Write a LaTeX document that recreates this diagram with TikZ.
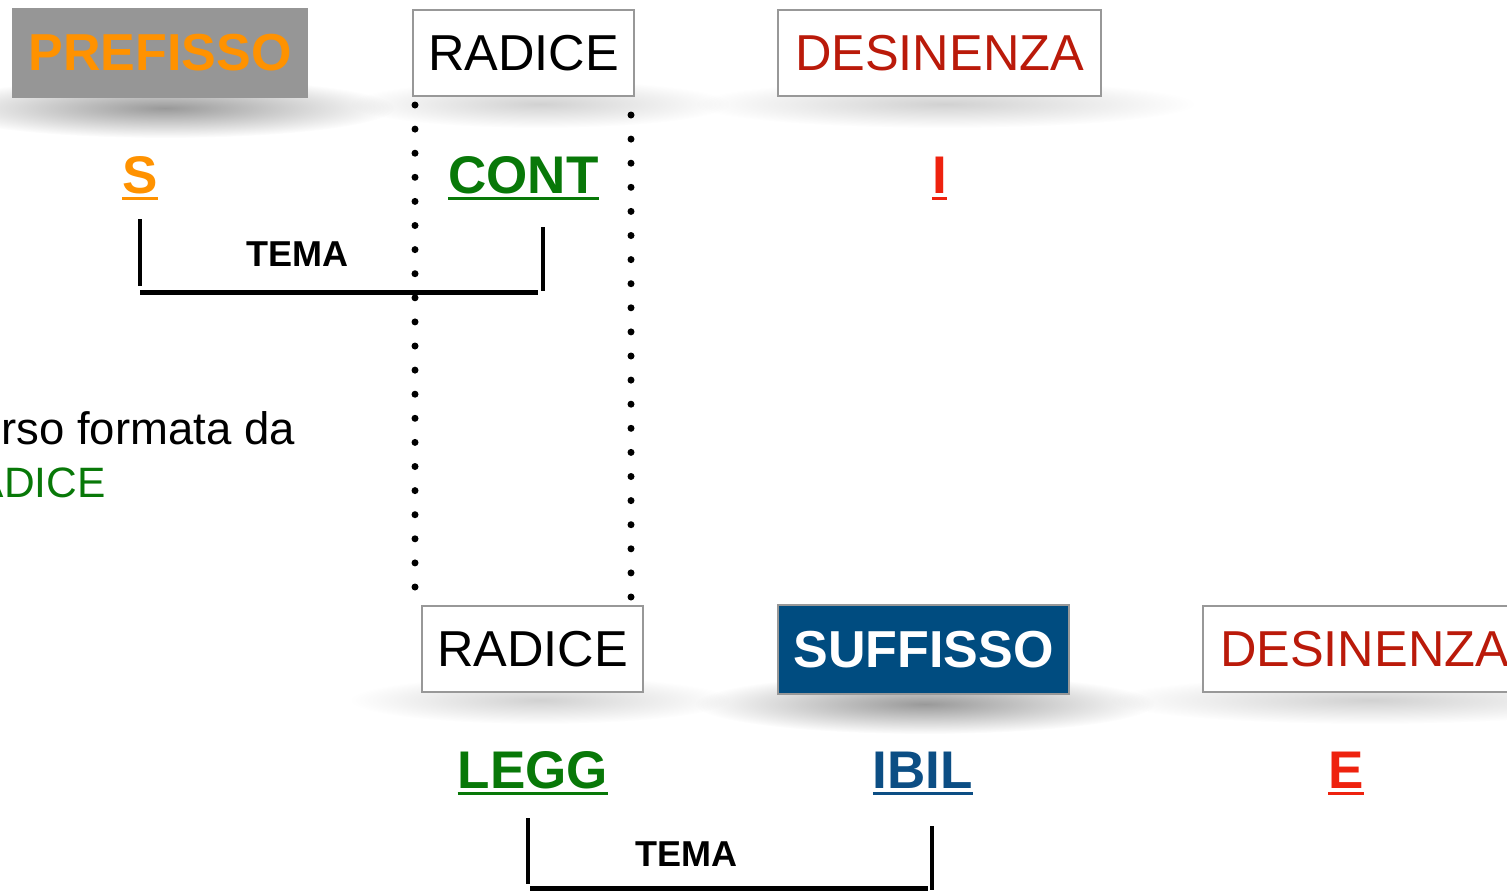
\documentclass[tikz,border=0pt]{standalone}
\usepackage{fontspec}
\setmainfont{Liberation Sans}
\usetikzlibrary{fadings}
\definecolor{boxgray}{RGB}{152,152,152}
\definecolor{prefgray}{RGB}{150,150,150}
\definecolor{preforange}{RGB}{255,146,0}
\definecolor{radgreen}{RGB}{8,120,8}
\definecolor{desred}{RGB}{186,26,10}
\definecolor{lightred}{RGB}{238,34,14}
\definecolor{sufblue}{RGB}{0,76,128}
\definecolor{ibilblue}{RGB}{12,78,132}
\tikzfading[name=softblob, inner color=transparent!0, outer color=transparent!100]
\newcommand\ulword[2]{\draw[line width=3pt, draw=#2] ([yshift=-5pt]#1.base west) -- ([yshift=-5pt]#1.base east);}
\begin{document}
\begin{tikzpicture}[x=1pt,y=-1pt,
  box/.style={draw=boxgray, line width=2.5pt, fill=white, inner sep=0pt, minimum height=86pt},
  boxfont/.style={font=\fontsize{50.5}{60}\selectfont},
  boldbox/.style={font=\bfseries\fontsize{52}{60}\selectfont},
  word/.style={font=\bfseries\fontsize{53}{60}\selectfont, inner sep=0pt, anchor=base},
  tema/.style={font=\bfseries\fontsize{36}{40}\selectfont, inner sep=0pt, anchor=base},
  plain/.style={font=\fontsize{45.5}{50}\selectfont, inner sep=0pt, anchor=base east},
  bracket/.style={line width=4pt},
  guide/.style={line width=7pt, line cap=round, dash pattern=on 0pt off 24.1pt},
  shadowblob/.style={fill=black, path fading=softblob}]
\useasboundingbox (0,0) rectangle (1507,892);
\clip (0,0) rectangle (1507,892);

% soft shadows
\fill[shadowblob, opacity=0.40] (165,108) ellipse (230 and 30);
\fill[shadowblob, opacity=0.18] (540,104) ellipse (190 and 24);
\fill[shadowblob, opacity=0.18] (945,104) ellipse (250 and 24);
\fill[shadowblob, opacity=0.18] (540,700) ellipse (190 and 24);
\fill[shadowblob, opacity=0.40] (925,704) ellipse (230 and 30);
\fill[shadowblob, opacity=0.18] (1370,700) ellipse (260 and 24);

% top row
\node[box, draw=none, fill=prefgray, minimum width=296pt, minimum height=90pt, boldbox, text=preforange] (pref) at (160,53) {PREFISSO};
\node[box, minimum width=221pt, boxfont] (rad1) at (523.5,53) {RADICE};
\node[box, minimum width=323pt, boxfont, text=desred] (des1) at (939.5,53) {DESINENZA};

\node[word, text=preforange] (s) at (140,193) {S};
\node[word, text=radgreen] (cont) at (523.5,193) {CONT};
\node[word, text=lightred] (i) at (939.5,193) {I};
\ulword{s}{preforange}
\ulword{cont}{radgreen}
\ulword{i}{lightred}

% bracket 1
\coordinate (b1a) at (140,219);
\coordinate (b1b) at (140,286);
\coordinate (b1c) at (140,292);
\coordinate (b1d) at (538,292);
\coordinate (b1e) at (543,227);
\coordinate (b1f) at (543,291);
\draw[bracket] (b1a) -- (b1b);
\draw[bracket, line width=5pt] (b1c) -- (b1d);
\draw[bracket] (b1e) -- (b1f);
\node[tema] (tema1) at (297,266) {TEMA};

% dotted guides
\coordinate (g1a) at (415,105);
\coordinate (g1b) at (415,588);
\coordinate (g2a) at (631,115);
\coordinate (g2b) at (631,598);
\draw[guide] (g1a) -- (g1b);
\draw[guide] (g2a) -- (g2b);

% left text
\node[plain] (l1) at (295,444) {rso formata da};
\node[plain, font=\fontsize{42.5}{50}\selectfont, text=radgreen] (l2) at (106,497) {ADICE};

% bottom row
\node[box, minimum width=221pt, boxfont] (rad2) at (532.5,649) {RADICE};
\node[box, fill=sufblue, minimum width=291pt, minimum height=89pt, boldbox, text=white] (suf) at (923.5,649.5) {SUFFISSO};
\node[box, minimum width=323pt, boxfont, text=desred] (des2) at (1364.5,649) {DESINENZA};

\node[word, text=radgreen] (legg) at (533,788) {LEGG};
\node[word, text=ibilblue] (ibil) at (923,788) {IBIL};
\node[word, text=lightred] (e) at (1346,788) {E};
\ulword{legg}{radgreen}
\ulword{ibil}{ibilblue}
\ulword{e}{lightred}

% bracket 2
\coordinate (b2a) at (528,818);
\coordinate (b2b) at (528,884);
\coordinate (b2c) at (530,888);
\coordinate (b2d) at (928,888);
\coordinate (b2e) at (932,826);
\coordinate (b2f) at (932,890);
\draw[bracket] (b2a) -- (b2b);
\draw[bracket, line width=5pt] (b2c) -- (b2d);
\draw[bracket] (b2e) -- (b2f);
\node[tema] (tema2) at (686,866) {TEMA};
\end{tikzpicture}
\end{document}
